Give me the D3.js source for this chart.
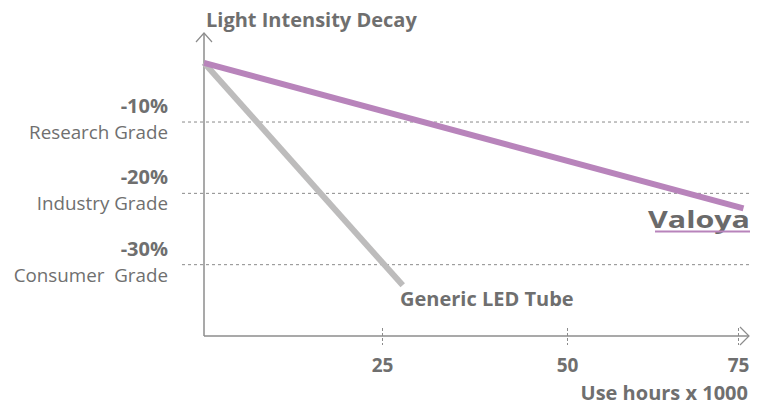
<!DOCTYPE html>
<html><head><meta charset="utf-8">
<script src="https://cdn.jsdelivr.net/npm/d3@7/dist/d3.min.js"></script>
<style>body{margin:0;background:#fff}svg{display:block}text{font-family:"Open Sans",sans-serif}</style>
</head><body><svg id="c" width="766" height="405"></svg>
<script>
const xTicks = [25, 50, 75];
const gridLevels = [-10, -20, -30];
const gradeLabels = ["Research Grade", "Industry Grade", "Consumer\u00a0 Grade"];
const valoyaSeries = [[0, -1.7], [75.8, -22.1]];
const genericSeries = [[0, -1.7], [27.8, -32.9]];

const svg = d3.select("#c");
const x = d3.scaleLinear().domain([0, 25, 50, 75]).range([204, 382, 567, 738]);
const y = d3.scaleLinear().domain([-40, 0]).range([336, 50.7]);
const axisCol = "#8c8c8c", textCol = "#6f6f6f";

// grid lines
svg.selectAll(".grid").data(gridLevels).join("line")
  .attr("x1", 182).attr("x2", 750)
  .attr("y1", d => y(d)).attr("y2", d => y(d))
  .attr("stroke", "#8a8a8a").attr("stroke-width", 1).attr("stroke-dasharray", "3,3");

// y labels
gridLevels.forEach((v, i) => {
  svg.append("text").attr("x", 168).attr("y", y(v) - 9).attr("text-anchor", "end")
    .attr("font-size", 20).attr("font-weight", "bold").attr("fill", textCol).text(v + "%");
  svg.append("text").attr("x", 168).attr("y", y(v) + 17).attr("text-anchor", "end")
    .attr("font-size", 18.8).attr("fill", textCol).text(gradeLabels[i]);
});

// x axis via d3 axis
const xAxis = d3.axisBottom(x).tickValues(xTicks).tickSize(0).tickPadding(0);
const gx = svg.append("g").attr("transform", `translate(0,${y(-40)})`).call(xAxis);
gx.select(".domain").remove();
gx.selectAll(".tick text").attr("dy", 0).attr("y", 36).attr("font-size", 19).attr("font-weight", "bold")
  .attr("fill", textCol).attr("font-family", "Open Sans, sans-serif");
gx.selectAll(".tick").append("line").attr("y1", -8).attr("y2", 9)
  .attr("stroke", axisCol).attr("stroke-dasharray", "3,2");

svg.append("line").attr("x1", x(0)).attr("x2", 749).attr("y1", y(-40)).attr("y2", y(-40))
  .attr("stroke", axisCol).attr("stroke-width", 1.5);
svg.append("path").attr("d", `M740,${y(-40)-9} L749,${y(-40)} L740,${y(-40)+9}`)
  .attr("fill", "none").attr("stroke", axisCol).attr("stroke-width", 1.2);

// y axis
svg.append("line").attr("x1", x(0)).attr("x2", x(0)).attr("y1", 33).attr("y2", y(-40))
  .attr("stroke", axisCol).attr("stroke-width", 1.5);
svg.append("path").attr("d", `M${x(0)-8},42 L${x(0)},33 L${x(0)+8},42`)
  .attr("fill", "none").attr("stroke", axisCol).attr("stroke-width", 1.2);

// lines
const line = d3.line().x(d => x(d[0])).y(d => y(d[1]));
svg.append("path").attr("d", line(genericSeries)).attr("stroke", "#bdbcbc")
  .attr("stroke-width", 6).attr("fill", "none");
svg.append("path").attr("d", line(valoyaSeries)).attr("stroke", "#b884bb")
  .attr("stroke-width", 6).attr("fill", "none");

// titles
svg.append("text").attr("x", 206).attr("y", 27).attr("font-size", 20).attr("font-weight", "bold")
  .attr("fill", textCol).text("Light Intensity Decay");
svg.append("text").attr("x", 748).attr("y", 400).attr("text-anchor", "end").attr("font-size", 20)
  .attr("font-weight", "bold").attr("fill", textCol).text("Use hours x 1000");
svg.append("text").attr("x", 400).attr("y", 306).attr("font-size", 20).attr("font-weight", "bold")
  .attr("fill", textCol).text("Generic LED Tube");

// Valoya logo
svg.append("text").attr("x", 648).attr("y", 228).attr("font-size", 23).attr("font-weight", "bold")
  .attr("font-family", "DejaVu Sans, sans-serif").attr("textLength", 102).attr("lengthAdjust", "spacingAndGlyphs")
  .attr("fill", "#6a6a6a").text("Valoya");
svg.append("line").attr("x1", 655).attr("x2", 750).attr("y1", 231.5).attr("y2", 231.5)
  .attr("stroke", "#b884bb").attr("stroke-width", 2);
</script></body></html>
